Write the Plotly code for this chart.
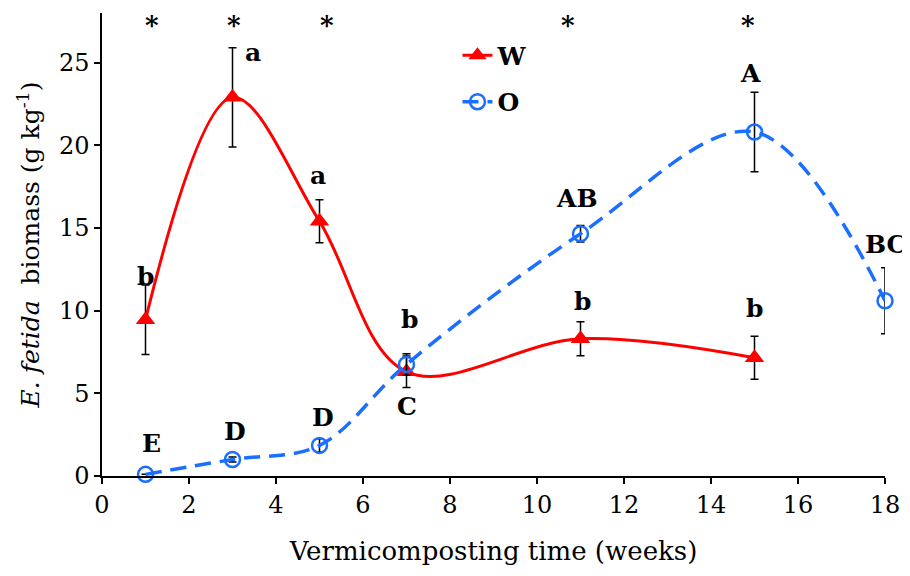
import plotly.graph_objects as go

# ---- data ----
weeks_w = [1, 3, 5, 7, 11, 15]
w_mean = [9.45, 22.9, 15.4, 6.3, 8.3, 7.15]
w_err = [2.1, 3.0, 1.3, 0.95, 1.03, 1.3]
w_letters = ["b", "a", "a", "b", "b", "b"]

weeks_o = [1, 3, 5, 7, 11, 15, 18]
o_mean = [0.1, 1.0, 1.85, 6.75, 14.65, 20.8, 10.6]
o_err = [0.0, 0.15, 0.4, 0.65, 0.5, 2.4, 2.0]
o_letters = ["E", "D", "D", "C", "AB", "A", "BC"]

star_weeks = [1, 3, 5, 11, 15]
star_level = 27.4

x_ticks = list(range(0, 19, 2))
y_ticks = [0, 5, 10, 15, 20, 25]

# ---- label offsets (pixels) ----
w_shift = [(0, 43), (20, 45), (-2, 46), (3, 52), (2, 37), (0, 49)]
o_shift = [(6, 31), (2, 28), (3, 28), (0, -42), (-4, 35), (-4, 59), (1, 56)]
star_shift = [6.5, 1.5, 7.5, -12.5, -6.5]

SERIF = "DejaVu Serif"
RED = "#FF0000"
BLUE = "#1A6FFF"

fig = go.Figure()

fig.add_trace(go.Scatter(
    x=weeks_w, y=w_mean, name="<b>W</b>", mode="lines+markers",
    legendgroup="w",
    line=dict(color=RED, width=3, shape="spline", smoothing=1.0),
    marker=dict(symbol="triangle-up", size=17, color=RED),
    error_y=dict(type="data", array=w_err, visible=True, color="black",
                 thickness=1.5, width=4),
    cliponaxis=False,
))

fig.add_trace(go.Scatter(
    x=weeks_o, y=o_mean, name="<b>O</b>", mode="lines+markers",
    legendgroup="o",
    line=dict(color=BLUE, width=3.5, shape="spline", smoothing=1.0,
              dash="16px,9px"),
    marker=dict(symbol="circle-open", size=15, color=BLUE,
                line=dict(width=2.5, color=BLUE)),
    error_y=dict(type="data", array=o_err, visible=True, color="black",
                 thickness=1.5, width=4),
    cliponaxis=False,
))

annotations = []
for xv, yv, t, (dx, dy) in zip(weeks_w, w_mean, w_letters, w_shift):
    annotations.append(dict(x=xv, y=yv, text=f"<b>{t}</b>", showarrow=False,
                            xshift=dx, yshift=dy, xanchor="center", yanchor="middle",
                            font=dict(family=SERIF, size=25, color="black")))
for xv, yv, t, (dx, dy) in zip(weeks_o, o_mean, o_letters, o_shift):
    annotations.append(dict(x=xv, y=yv, text=f"<b>{t}</b>", showarrow=False,
                            xshift=dx, yshift=dy, xanchor="center", yanchor="middle",
                            font=dict(family=SERIF, size=25, color="black")))
for xv, dx in zip(star_weeks, star_shift):
    annotations.append(dict(x=xv, y=star_level, text="<b>*</b>", showarrow=False,
                            xshift=dx, yshift=-2, xanchor="center", yanchor="middle",
                            font=dict(family=SERIF, size=26, color="black")))

fig.update_layout(
    width=900, height=560,
    margin=dict(l=94, r=23, t=5, b=92),
    paper_bgcolor="white", plot_bgcolor="white",
    showlegend=True,
    legend=dict(x=0.454, y=0.958, xanchor="left", yanchor="top",
                bgcolor="rgba(0,0,0,0)", borderwidth=0, tracegroupgap=11,
                font=dict(family=SERIF, size=25, color="black")),
    annotations=annotations,
    font=dict(family=SERIF, color="black"),
)

fig.update_xaxes(
    range=[0, 18], tickvals=x_ticks, showgrid=False, zeroline=False,
    showline=True, linecolor="black", linewidth=1.5,
    ticks="outside", ticklen=6, tickwidth=2, tickcolor="black",
    tickfont=dict(family=SERIF, size=24, color="black"),
    title=dict(text="Vermicomposting time (weeks)", standoff=24,
               font=dict(family=SERIF, size=26, color="black")),
)
fig.update_yaxes(
    range=[0, 28], tickvals=y_ticks, showgrid=False, zeroline=False,
    showline=True, linecolor="black", linewidth=1.5,
    ticks="outside", ticklen=6, tickwidth=2, tickcolor="black",
    tickfont=dict(family=SERIF, size=24, color="black"),
    title=dict(text="<i>E. fetida</i>  biomass (g kg<sup>-1</sup>)", standoff=12,
               font=dict(family=SERIF, size=25, color="black")),
)

fig.write_html("out.html")
